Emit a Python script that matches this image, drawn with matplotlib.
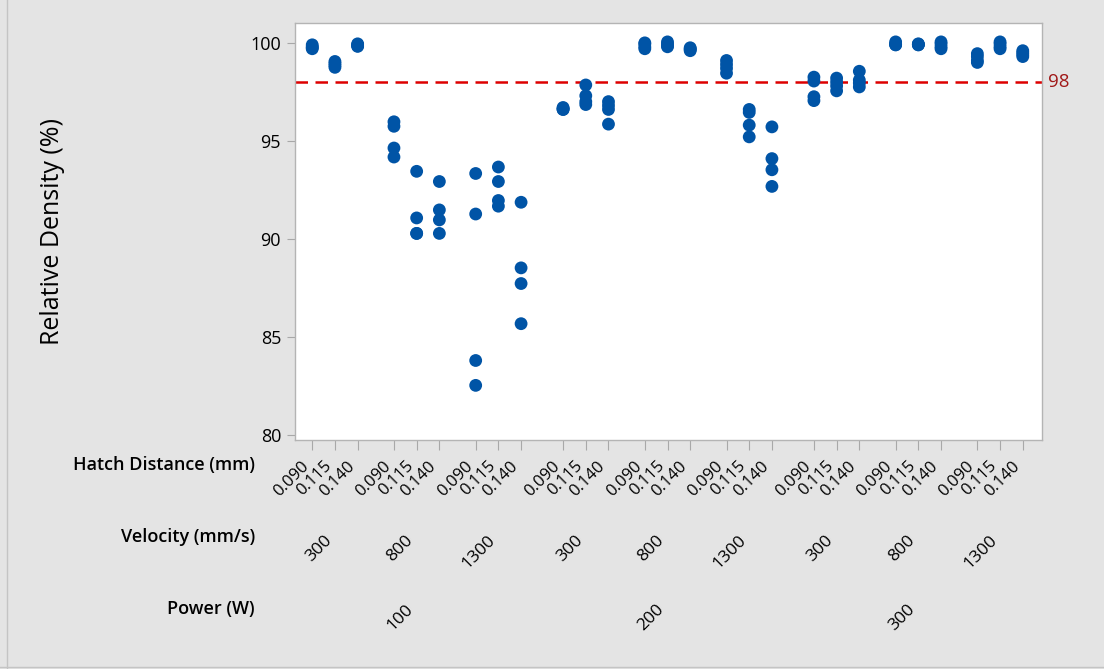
import matplotlib
matplotlib.use('Agg')
import matplotlib.pyplot as plt
import matplotlib.transforms as mtransforms
from matplotlib.lines import Line2D

plt.rcParams['font.family'] = ['Open Sans', 'DejaVu Sans']

powers = ['100', '200', '300']
velocities = ['300', '800', '1300']
hatches = ['0.090', '0.115', '0.140']

# relative density (%) per (velocity, hatch) cell, 4 replicates each
density_100W = [
    [99.90, 99.80, 99.75, 99.70], [99.05, 98.95, 98.85, 98.75], [99.95, 99.90, 99.85, 99.82],
    [95.97, 95.74, 94.63, 94.17], [93.44, 91.06, 90.27, 90.27], [92.92, 91.47, 90.96, 90.27],
    [93.33, 91.26, 83.78, 82.51], [93.66, 92.92, 91.95, 91.66], [91.86, 88.51, 87.71, 85.66],
]
density_200W = [
    [96.70, 96.65, 96.60, 96.60], [97.85, 97.30, 97.00, 96.85], [97.00, 96.80, 96.60, 95.85],
    [100.0, 99.95, 99.80, 99.70], [100.05, 99.95, 99.85, 99.80], [99.75, 99.70, 99.65, 99.60],
    [99.10, 98.90, 98.70, 98.45], [96.60, 96.45, 95.80, 95.20], [95.71, 94.09, 93.52, 92.67],
]
density_300W = [
    [98.25, 98.05, 97.25, 97.05], [98.20, 98.00, 97.80, 97.55], [98.55, 98.10, 97.95, 97.75],
    [100.05, 99.95, 99.90, 99.90], [99.95, 99.93, 99.90, 99.90], [100.05, 99.95, 99.80, 99.70],
    [99.45, 99.30, 99.10, 99.00], [100.05, 99.95, 99.80, 99.70], [99.60, 99.50, 99.40, 99.30],
]
target = 98

all_groups = density_100W + density_200W + density_300W

# x layout: unit step inside a velocity block, wider gaps between blocks
pos = []
x = 0.0
for p in range(3):
    for v in range(3):
        for h in range(3):
            pos.append(x)
            x += 1.0
        x += 0.6
    x += 0.25
vel_centers = [pos[i * 3 + 1] for i in range(9)]
pow_centers = [pos[i * 9 + 4] for i in range(3)]

fig = plt.figure(figsize=(11.04, 6.69), dpi=100, facecolor='#e4e4e4')
ax = fig.add_axes([0.2672, 0.3423, 0.6769, 0.6229])
ax.set_facecolor('white')

blue = '#0054a6'
for xp, vals in zip(pos, all_groups):
    ax.scatter([xp] * len(vals), vals, s=85, color=blue, edgecolors='none', zorder=3)

ax.axhline(target, color='#dd0000', lw=1.8, ls=(0, (5, 3)), zorder=2)
trans_ay = mtransforms.blended_transform_factory(ax.transAxes, ax.transData)
ax.text(1.007, target, str(target), transform=trans_ay, ha='left', va='center',
        fontsize=13.5, color='#a01818')

ax.set_xlim(-0.76, pos[-1] + 0.86)
ax.set_ylim(79.72, 101.0)
ax.set_yticks([80, 85, 90, 95, 100])
ax.tick_params(axis='y', labelsize=13, length=6, color='#a8a8a8', pad=4)
ax.set_xticks(pos)
ax.set_xticklabels(hatches * 9, rotation=45, ha='right', fontsize=12)
ax.tick_params(axis='x', length=7, color='#a8a8a8', pad=6)
for s in ax.spines.values():
    s.set_color('#b4b4b4')
    s.set_linewidth(1.0)

fig.text(0.048, 0.654, 'Relative Density (%)', rotation=90, ha='center', va='center', fontsize=18)

trans_xf = mtransforms.blended_transform_factory(ax.transData, fig.transFigure)
for xc, v in zip(vel_centers, velocities * 3):
    ax.text(xc, 0.2048, v, transform=trans_xf, rotation=45, ha='right', va='top', fontsize=12.5)
for xc, p in zip(pow_centers, powers):
    ax.text(xc, 0.1016, p, transform=trans_xf, rotation=45, ha='right', va='top', fontsize=12.5)

fig.text(0.231, 0.3055, 'Hatch Distance (mm)', ha='right', va='center', fontsize=13, fontweight='semibold')
fig.text(0.231, 0.1973, 'Velocity (mm/s)', ha='right', va='center', fontsize=13, fontweight='semibold')
fig.text(0.231, 0.0903, 'Power (W)', ha='right', va='center', fontsize=13, fontweight='semibold')

# window border of the original screenshot
fig.add_artist(Line2D([0.0065, 0.0065], [0.0, 1.0], transform=fig.transFigure, color='#c4c4c4', lw=1))
fig.add_artist(Line2D([0.0, 1.0], [0.0025, 0.0025], transform=fig.transFigure, color='#c4c4c4', lw=1))

fig.savefig('out.png', dpi=100, facecolor=fig.get_facecolor())
